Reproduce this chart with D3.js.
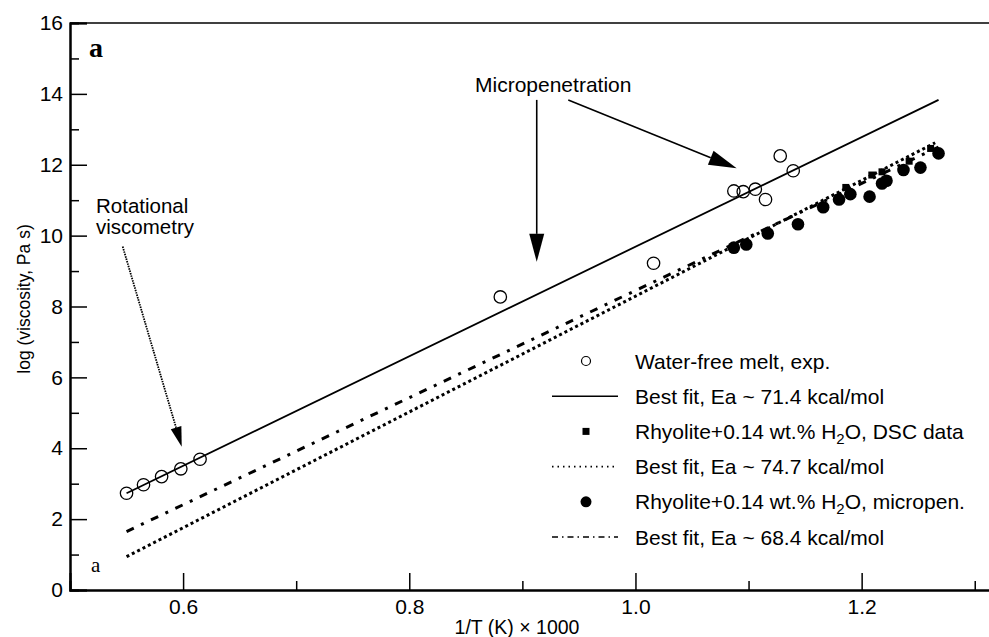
<!DOCTYPE html>
<html>
<head>
<meta charset="utf-8">
<script src="https://cdn.jsdelivr.net/npm/d3@7"></script>
<style>
  body { margin: 0; background: #fff; }
  text { font-family: "Liberation Sans", Arial, Helvetica, sans-serif; fill: #000; }
  .serif { font-family: "Liberation Serif", "Times New Roman", serif; }
</style>
</head>
<body>
<script>
// water-free melt, open circles
const waterFreeX = [0.550, 0.565, 0.581, 0.598, 0.615, 0.8805, 1.016, 1.087, 1.0953, 1.106, 1.115, 1.128, 1.1395];
const waterFreeY = [2.73, 2.97, 3.20, 3.42, 3.69, 8.27, 9.22, 11.26, 11.24, 11.31, 11.02, 12.25, 11.83];

// rhyolite + 0.14 wt.% H2O, DSC data (small squares)
const dscX = [1.186, 1.209, 1.218, 1.242, 1.261];
const dscY = [11.36, 11.71, 11.80, 12.10, 12.46];

// rhyolite + 0.14 wt.% H2O, micropenetration (filled circles)
const micropenX = [1.087, 1.098, 1.117, 1.1437, 1.166, 1.180, 1.190, 1.207, 1.218, 1.222, 1.237, 1.252, 1.268];
const micropenY = [9.66, 9.75, 10.06, 10.32, 10.80, 11.02, 11.17, 11.10, 11.47, 11.55, 11.85, 11.92, 12.32];

// best fit lines, end points [x0, y0, x1, y1]
const fitSolid = [0.550, 2.73, 1.268, 13.83];   // 71.4 kcal/mol
const fitDotted = [0.550, 0.94, 1.265, 12.62];  // 74.7 kcal/mol
const fitDashDot = [0.550, 1.65, 1.268, 12.50]; // 68.4 kcal/mol

const xMajor = [0.6, 0.8, 1.0, 1.2];
const xMinor = [0.7, 0.9, 1.1, 1.3];
const yMajor = [0, 2, 4, 6, 8, 10, 12, 14, 16];
const yMinor = [1, 3, 5, 7, 9, 11, 13, 15];

const legendLabels = [
  "Water-free melt, exp.",
  "Best fit, Ea ~ 71.4 kcal/mol",
  "Rhyolite+0.14 wt.% H|2|O, DSC data",
  "Best fit, Ea ~ 74.7 kcal/mol",
  "Rhyolite+0.14 wt.% H|2|O, micropen.",
  "Best fit, Ea ~ 68.4 kcal/mol"
];

const W = 989, H = 637;
const svg = d3.select("body").append("svg")
    .attr("width", W)
    .attr("height", H);

const x = d3.scaleLinear().domain([0.5, 1.315]).range([70, 991.7]);
const y = d3.scaleLinear().domain([0, 16]).range([590, 23]);

// axes, ticks pointing inward
const gx = svg.append("g").attr("transform", "translate(0,590)");
gx.call(d3.axisBottom(x).tickValues(xMajor).tickSize(-17).tickPadding(9)
    .tickFormat(d3.format(".1f")));
gx.append("g").call(d3.axisBottom(x).tickValues(xMinor).tickSize(-9).tickFormat(""));

const gy = svg.append("g").attr("transform", "translate(70,0)");
gy.call(d3.axisLeft(y).tickValues(yMajor).tickSize(-17).tickPadding(7));
gy.append("g").call(d3.axisLeft(y).tickValues(yMinor).tickSize(-9).tickFormat(""));

svg.selectAll(".domain").attr("stroke-width", 2).attr("stroke", "#000");
svg.selectAll(".tick line").attr("stroke-width", 1.5).attr("stroke", "#000");
svg.selectAll(".tick text").style("font-size", "21px").attr("fill", "#000");

// top frame line
svg.append("line")
    .attr("x1", 70).attr("x2", W)
    .attr("y1", y(16)).attr("y2", y(16))
    .attr("stroke", "#000").attr("stroke-width", 1.5);

// axis titles
svg.append("text")
    .attr("x", 517).attr("y", 634)
    .attr("text-anchor", "middle")
    .style("font-size", "19.5px")
    .text("1/T (K) \u00d7 1000");

svg.append("text")
    .attr("transform", "translate(30,299) rotate(-90)")
    .attr("text-anchor", "middle")
    .style("font-size", "17.5px")
    .text("log (viscosity, Pa s)");

// fit lines
function drawFit(f, dash, width) {
  svg.append("line")
      .attr("x1", x(f[0])).attr("y1", y(f[1]))
      .attr("x2", x(f[2])).attr("y2", y(f[3]))
      .attr("stroke", "#000")
      .attr("stroke-width", width)
      .attr("stroke-dasharray", dash);
}
drawFit(fitSolid, null, 1.8);
drawFit(fitDotted, "3,3", 3);
drawFit(fitDashDot, "8,8,3,8", 3);

// points
svg.append("g").selectAll("circle")
    .data(micropenX.map((d, i) => [d, micropenY[i]]))
    .join("circle")
    .attr("cx", d => x(d[0])).attr("cy", d => y(d[1]))
    .attr("r", 6.3)
    .attr("fill", "#000");

svg.append("g").selectAll("rect")
    .data(dscX.map((d, i) => [d, dscY[i]]))
    .join("rect")
    .attr("x", d => x(d[0]) - 3.5).attr("y", d => y(d[1]) - 3.5)
    .attr("width", 7).attr("height", 7)
    .attr("fill", "#000");

svg.append("g").selectAll("circle")
    .data(waterFreeX.map((d, i) => [d, waterFreeY[i]]))
    .join("circle")
    .attr("cx", d => x(d[0])).attr("cy", d => y(d[1]))
    .attr("r", 6.2)
    .attr("fill", "none")
    .attr("stroke", "#000")
    .attr("stroke-width", 1.3);

// arrows (annotation points in data units)
function arrow(x0, y0, x1, y1, headLen, headHalf, dash, width) {
  const px0 = x(x0), py0 = y(y0), px1 = x(x1), py1 = y(y1);
  const a = Math.atan2(py1 - py0, px1 - px0);
  const bx = px1 - headLen * Math.cos(a), by = py1 - headLen * Math.sin(a);
  svg.append("line")
      .attr("x1", px0).attr("y1", py0).attr("x2", bx).attr("y2", by)
      .attr("stroke", "#000").attr("stroke-width", width)
      .attr("stroke-dasharray", dash);
  const nx = -Math.sin(a), ny = Math.cos(a);
  svg.append("path")
      .attr("d", `M${px1},${py1}L${bx + nx * headHalf},${by + ny * headHalf}L${bx - nx * headHalf},${by - ny * headHalf}Z`)
      .attr("fill", "#000");
}
arrow(0.9127, 13.83, 0.9127, 9.26, 28, 7.5, null, 1.6);
arrow(0.9406, 13.83, 1.0895, 11.90, 28, 7.5, null, 1.6);
arrow(0.5466, 9.69, 0.5988, 4.04, 20, 5.5, "1.5,1", 1.8);

svg.append("text")
    .attr("x", 475).attr("y", 92)
    .style("font-size", "21px")
    .text("Micropenetration");

svg.append("text")
    .attr("x", 96).attr("y", 213)
    .style("font-size", "20.5px")
    .text("Rotational");
svg.append("text")
    .attr("x", 96).attr("y", 234)
    .style("font-size", "20.5px")
    .text("viscometry");

svg.append("text").attr("class", "serif")
    .attr("x", 89).attr("y", 57)
    .style("font-size", "28px").style("font-weight", "bold")
    .text("a");
svg.append("text").attr("class", "serif")
    .attr("x", 91).attr("y", 572)
    .style("font-size", "21px")
    .text("a");

// legend
const legendY = d3.scalePoint().domain(d3.range(legendLabels.length)).range([361, 537]);
const lg = svg.append("g");
legendLabels.forEach((lab, i) => {
  const cy = legendY(i);
  if (i === 0) {
    lg.append("circle").attr("cx", 586).attr("cy", cy).attr("r", 4.5)
        .attr("fill", "none").attr("stroke", "#000").attr("stroke-width", 1.2);
  } else if (i === 2) {
    lg.append("rect").attr("x", 582.5).attr("y", cy - 3.5).attr("width", 7).attr("height", 7)
        .attr("fill", "#000");
  } else if (i === 4) {
    lg.append("circle").attr("cx", 586).attr("cy", cy).attr("r", 5.5).attr("fill", "#000");
  } else {
    const dash = i === 1 ? null : (i === 3 ? "1.5,4" : "6,4,1.5,4");
    lg.append("line").attr("x1", 552).attr("x2", 618).attr("y1", cy).attr("y2", cy)
        .attr("stroke", "#000").attr("stroke-width", 1.6).attr("stroke-dasharray", dash);
  }
  const t = lg.append("text").attr("x", 635).attr("y", cy + 7.5).style("font-size", "21px");
  lab.split("|").forEach((part, k) => {
    const ts = t.append("tspan").text(part);
    if (k === 1) ts.attr("dy", 5).style("font-size", "15px");
    if (k === 2) ts.attr("dy", -5);
  });
});
</script>
</body>
</html>
